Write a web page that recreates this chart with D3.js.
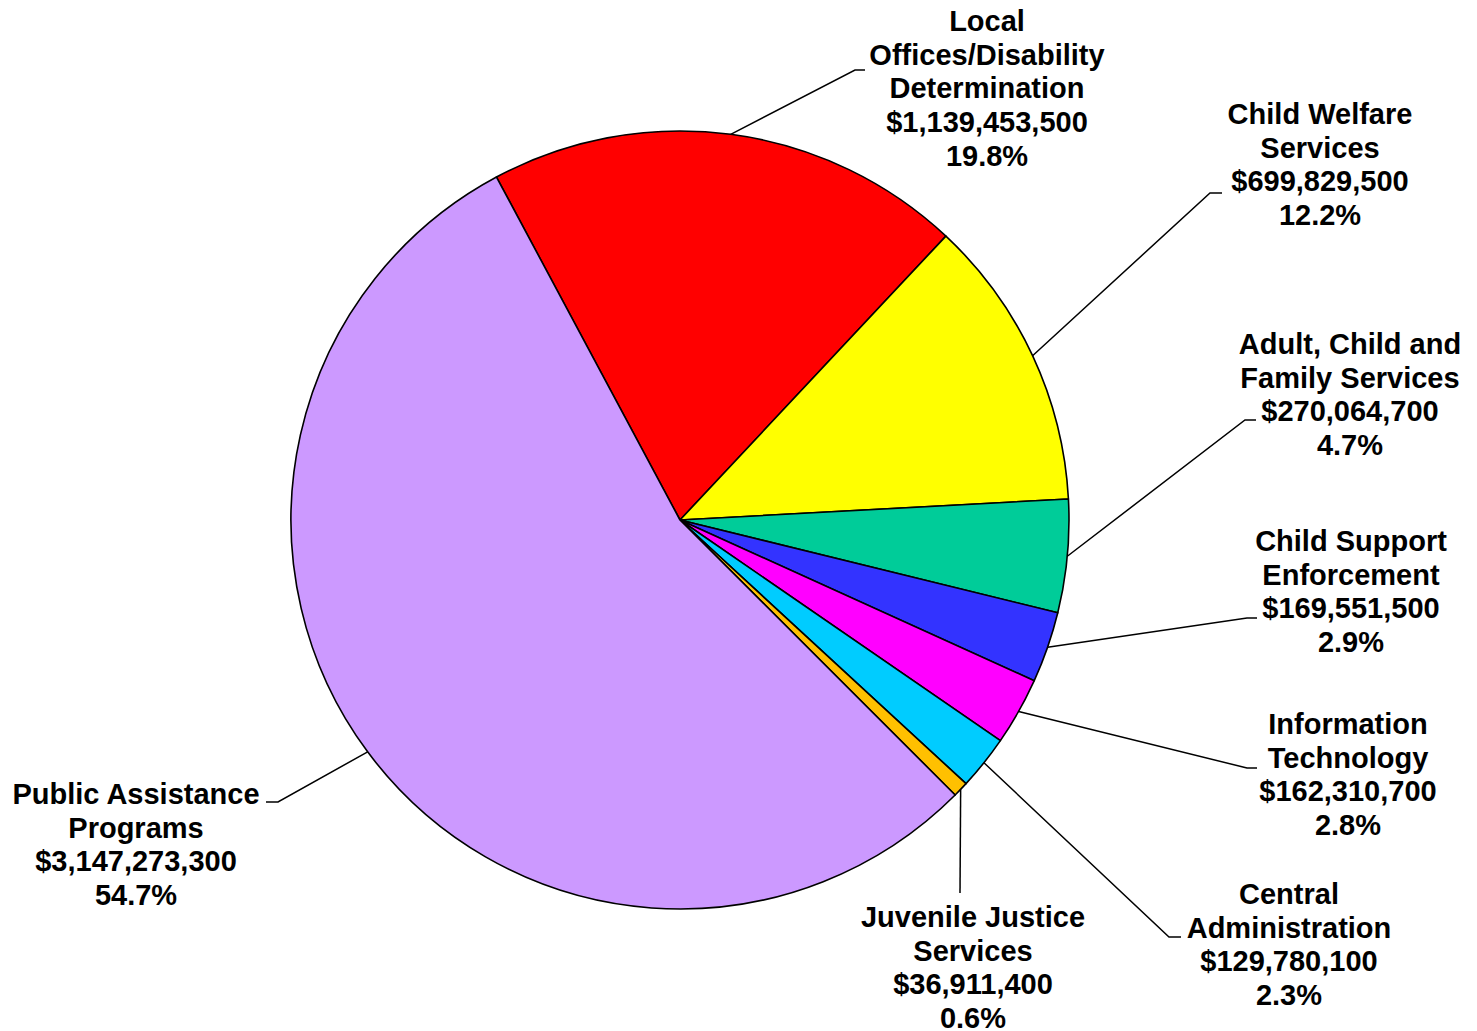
<!DOCTYPE html>
<html>
<head>
<meta charset="utf-8">
<script src="https://cdn.jsdelivr.net/npm/d3@7"></script>
<style>
  body { margin: 0; background: #fff; }
  text { font-family: "Liberation Sans", Arial, sans-serif; font-weight: bold; font-size: 29px; fill: #000; }
</style>
</head>
<body>
<div class="chart"></div>
<script>
var svgWidth = 1477;
var svgHeight = 1031;

// slice data, clockwise from the red slice
var categories = [
  "Local\nOffices/Disability\nDetermination",
  "Child Welfare\nServices",
  "Adult, Child and\nFamily Services",
  "Child Support\nEnforcement",
  "Information\nTechnology",
  "Central\nAdministration",
  "Juvenile Justice\nServices",
  "Public Assistance\nPrograms"
];
var amounts = [1139453500, 699829500, 270064700, 169551500, 162310700, 129780100, 36911400, 3147273300];
var colors = ["#ff0000", "#ffff00", "#00cc99", "#3333ff", "#ff00ff", "#00ccff", "#ffc000", "#cc99ff"];

// label placement: centre x, first baseline, knee of leader line, tick end
var labelLayout = [
  {x: 987, y: 31, knee: [855, 70], end: [865, 70]},
  {x: 1320, y: 124, knee: [1210, 193], end: [1222, 193]},
  {x: 1350, y: 354, knee: [1245, 420], end: [1256, 420]},
  {x: 1351, y: 551, knee: [1247, 618], end: [1257, 618]},
  {x: 1348, y: 734, knee: [1247, 768], end: [1257, 768]},
  {x: 1289, y: 904, knee: [1169, 937], end: [1181, 937]},
  {x: 973, y: 927, knee: [960, 893], end: [960, 893]},
  {x: 136, y: 804, knee: [278, 802], end: [266, 802]}
];

var cx = 680, cy = 520, radius = 389;
var lineHeight = 33.7;

var svg = d3.select(".chart")
  .append("svg")
  .attr("width", svgWidth)
  .attr("height", svgHeight);

var total = d3.sum(amounts);
var money = d3.format("$,");
var pct = d3.format(".1%");

var startDeg = -28.15;
var pie = d3.pie()
  .sort(null)
  .startAngle(startDeg * Math.PI / 180)
  .endAngle((startDeg + 360) * Math.PI / 180)
  .value(function(d) { return d; });

var arcs = pie(amounts);
var arc = d3.arc().innerRadius(0).outerRadius(radius);
var edge = d3.arc().innerRadius(radius).outerRadius(radius);

var g = svg.append("g").attr("transform", "translate(" + cx + "," + cy + ")");

g.selectAll("path.slice")
  .data(arcs)
  .enter().append("path")
  .attr("class", "slice")
  .attr("d", arc)
  .attr("fill", function(d, i) { return colors[i]; })
  .attr("stroke", "#000")
  .attr("stroke-width", 1.6)
  .attr("stroke-linejoin", "round");

// leader lines
svg.selectAll("polyline.leader")
  .data(arcs)
  .enter().append("polyline")
  .attr("class", "leader")
  .attr("fill", "none")
  .attr("stroke", "#000")
  .attr("stroke-width", 1.5)
  .attr("points", function(d, i) {
    var p = edge.centroid(d);
    var L = labelLayout[i];
    return [[cx + p[0], cy + p[1]], L.knee, L.end].map(function(q) { return q.join(","); }).join(" ");
  });

// labels
var labels = svg.selectAll("text.label")
  .data(arcs)
  .enter().append("text")
  .attr("class", "label")
  .attr("text-anchor", "middle");

labels.each(function(d, i) {
  var L = labelLayout[i];
  var lines = categories[i].split("\n");
  lines.push(money(amounts[i]));
  lines.push(pct(amounts[i] / total));
  var t = d3.select(this);
  lines.forEach(function(s, k) {
    t.append("tspan")
      .attr("x", L.x)
      .attr("y", L.y + k * lineHeight)
      .text(s);
  });
});
</script>
</body>
</html>
